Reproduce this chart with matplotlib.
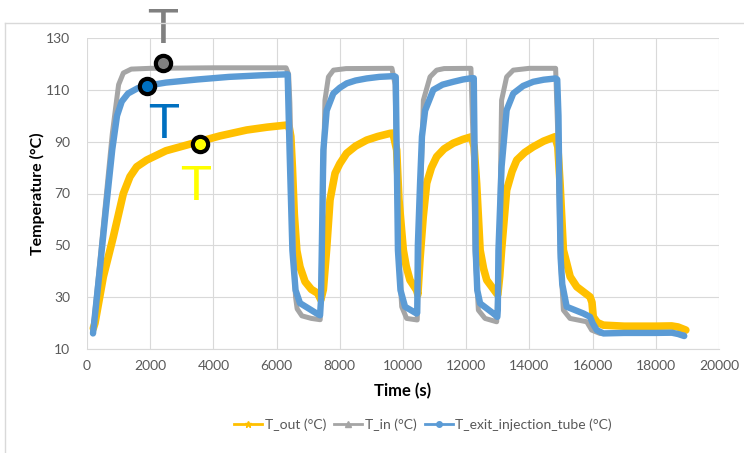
import numpy as np
import matplotlib
matplotlib.use("Agg")
import matplotlib.pyplot as plt
from matplotlib.lines import Line2D

plt.rcParams['font.family'] = ['Lato', 'DejaVu Sans']

# T_out (yellow)
t_out = [200, 253, 517, 833, 1150, 1360, 1572, 1888, 2500, 3364, 4200, 5054, 5700, 6320,
         6400, 6450, 6500, 6560, 6640, 6740, 6900, 7100, 7300,
         7400, 7480, 7580, 7690, 7850, 8000, 8215, 8500, 8850, 9200, 9590, 9680,
         9800, 9870, 10010, 10100, 10220, 10430,
         10470, 10540, 10640, 10750, 10900, 11065, 11300, 11590, 11900, 12170,
         12250, 12330, 12440, 12550, 12650, 12960,
         13000, 13060, 13120, 13280, 13450, 13600, 13850, 14120, 14450, 14810,
         14900, 14970, 15075, 15290, 15500, 15920, 15980, 16020, 16150, 16340,
         17000, 18000, 18500, 18700, 18950]
T_out = [18, 20, 37.9, 53.3, 70, 76.5, 80.3, 82.9, 86.5, 89.4, 92.2, 94.5, 95.6, 96.4,
         95.5, 92, 80, 62, 48, 41.7, 36, 33, 31.5,
         29, 33, 48, 67.5, 77.8, 81.5, 85.5, 88.3, 90.6, 92, 93.2, 93.3,
         86.8, 68, 48.2, 42, 36.6, 32.7,
         31, 45, 61, 74, 80, 84.2, 87.2, 89.4, 90.9, 91.9,
         88, 73.9, 48.2, 41, 36.6, 31.5,
         31, 38, 48.2, 71.3, 78.5, 82.9, 85.8, 88, 90.2, 91.9,
         88, 73.9, 48.2, 37.9, 34, 30.1, 28, 22.4, 20.2, 19.2,
         18.8, 18.8, 18.9, 18.5, 17.3]

# T_in (grey)
t_in = [190, 400, 600, 800, 1000, 1150, 1400, 2000, 4000, 6300,
        6380, 6420, 6480, 6540, 6600, 6650, 6800, 7100, 7380,
        7430, 7530, 7640, 7800, 8200, 9650,
        9750, 9850, 9960, 10115, 10450,
        10540, 10645, 10855, 11065, 11300, 12150,
        12225, 12280, 12385, 12595, 12965,
        13050, 13120, 13280, 13490, 14000, 14830,
        14915, 14970, 15075, 15285, 15815, 15970, 16235,
        17000, 18000, 18500, 18900]
T_in = [17, 43, 68, 93, 112, 116.5, 118, 118.3, 118.5, 118.5,
        116, 105, 75, 45, 30, 25.5, 22.8, 21.8, 21.3,
        48, 106, 115, 117.6, 118.2, 118.3,
        112, 48, 26.3, 21.8, 21.2,
        61, 106, 115, 117.6, 118.2, 118.3,
        86.8, 48, 25, 21.8, 20.5,
        48, 106, 115, 117.6, 118.3, 118.3,
        86.8, 48, 25, 21.8, 20.5, 17.3, 16.0,
        16.2, 16.2, 16.2, 15.5]

# T_exit_injection_tube (blue)
t_exit = [190, 400, 600, 800, 950, 1100, 1300, 1600, 1900, 2500, 3500, 4500, 5500, 6350,
          6410, 6500, 6600, 6740, 7270, 7375,
          7405, 7430, 7480, 7585, 7795, 8000, 8220, 8500, 8850, 9250, 9720,
          9770, 9800, 9840, 9920, 10065, 10430,
          10450, 10470, 10540, 10600, 10700, 10960, 11250, 11590, 11900, 12170,
          12240, 12265, 12300, 12350, 12440, 12860, 12985,
          13000, 13020, 13120, 13280, 13490, 13800, 14120, 14450, 14830,
          14880, 14920, 14950, 14990, 15040, 15180, 15710, 15920, 16000, 16130, 16340,
          17000, 18000, 18500, 18700, 18900]
T_exit = [16, 40, 64, 87, 100, 105.5, 108.6, 110.6, 111.6, 112.8, 114, 115, 115.6, 116,
          86.8, 48, 32.7, 27.7, 23.7, 23,
          29, 48, 86.8, 102, 108.6, 110.8, 112.5, 113.6, 114.4, 115, 115.3,
          115, 86.8, 48, 32.7, 26.3, 23.7,
          24, 50, 74, 92, 102, 110, 112, 113.1, 114, 114.5,
          114.5, 86.8, 48, 32.7, 27.6, 23.7, 22.4,
          25, 48, 80.3, 102.2, 108.6, 111.5, 113.1, 113.9, 114.4,
          114, 100, 70, 45, 35, 26.3, 23.7, 22.4, 20, 17.3, 16,
          16.2, 16.2, 16.3, 15.8, 15]

c_out, c_in, c_exit = '#FFC000', '#A5A5A5', '#5B9BD5'

fig = plt.figure(figsize=(7.44, 4.53), dpi=100)
ax = fig.add_axes([87/744, 1-349/453, 632/744, 311/453])

ax.plot(t_out, T_out, color=c_out, lw=5.5, solid_capstyle='round', solid_joinstyle='round')
ax.plot(t_in, T_in, color=c_in, lw=3.6, solid_capstyle='round', solid_joinstyle='round')
ax.plot(t_exit, T_exit, color=c_exit, lw=4.6, solid_capstyle='round', solid_joinstyle='round')

ax.set_xlim(0, 20000)
ax.set_ylim(10, 130)
ax.set_xticks(np.arange(0, 20001, 2000))
ax.set_yticks(np.arange(10, 131, 20))
ax.grid(True, color='#D9D9D9', lw=0.8)
ax.set_axisbelow(True)
for s in ax.spines.values():
    s.set_visible(False)
ax.spines['bottom'].set_visible(True)
ax.spines['bottom'].set_color('#D9D9D9')
ax.tick_params(length=0, labelsize=10, labelcolor='#595959')
ax.tick_params(axis='y', pad=12)
ax.tick_params(axis='x', pad=8)
ax.set_xlabel('Time (s)', fontsize=12, fontweight='bold', labelpad=8)
ax.set_ylabel('Temperature (°C)', fontsize=11.5, fontweight='bold', labelpad=1)

# circled points and big T letters
ax.plot([2405], [120.35], 'o', ms=11, mfc='#808080', mec='black', mew=3, clip_on=False, zorder=5)
ax.plot([1899], [111.5], 'o', ms=11, mfc='#0070C0', mec='black', mew=3, clip_on=False, zorder=5)
ax.plot([3576], [89.1], 'o', ms=11, mfc='#FFFF00', mec='black', mew=3, clip_on=False, zorder=5)
for x, y, c in [(2405, 128.1, '#808080'), (2437, 91.4, '#0070C0'), (3450, 67.5, '#FFFF00')]:
    ax.text(x, y, 'T', color=c, fontsize=34, family='DejaVu Sans', ha='center',
            va='baseline', clip_on=False, zorder=6)

handles = [
    Line2D([], [], color=c_out, lw=2, marker='*', ms=5),
    Line2D([], [], color=c_in, lw=2, marker='^', ms=4),
    Line2D([], [], color=c_exit, lw=2, marker='o', ms=4),
]
labels = ['T_out (°C)', 'T_in (°C)', 'T_exit_injection_tube (°C)']
fig.legend(handles, labels, loc='center', bbox_to_anchor=(423/744, 1-425/453), ncol=3,
           frameon=False, fontsize=10, labelcolor='#595959', handlelength=2,
           handletextpad=0.2, columnspacing=0.6)

# chart frame edges
fig.add_artist(Line2D([5/744, 1], [1-23/453, 1-23/453], color='#D9D9D9', lw=1))
fig.add_artist(Line2D([5/744, 5/744], [0, 1-23/453], color='#D9D9D9', lw=1))

fig.savefig('out.png', dpi=100)
